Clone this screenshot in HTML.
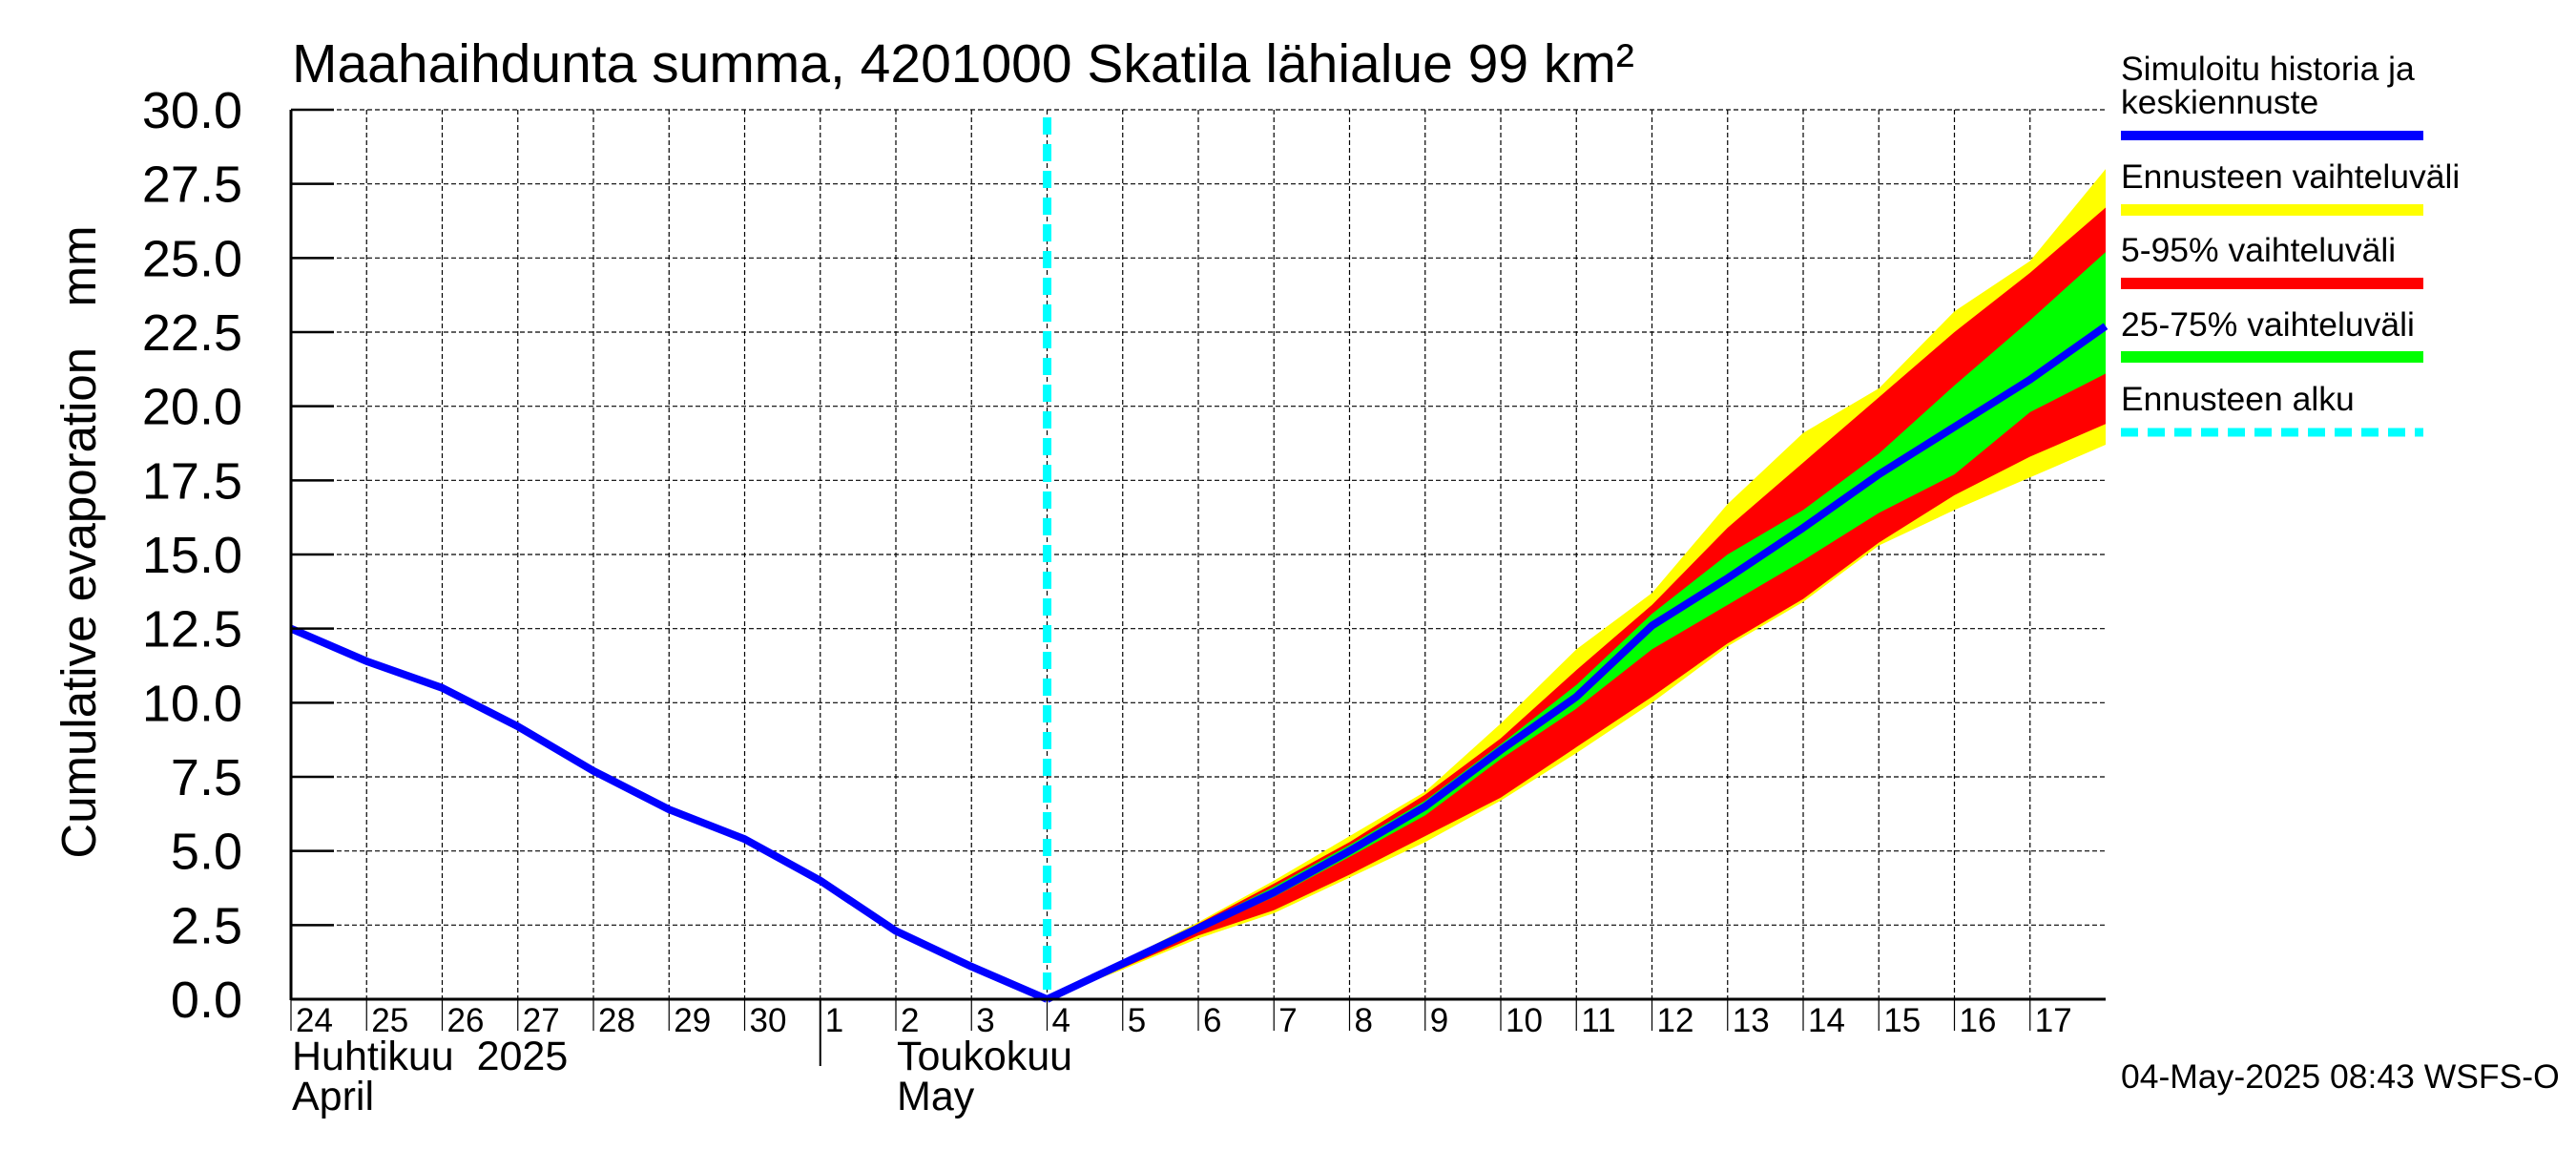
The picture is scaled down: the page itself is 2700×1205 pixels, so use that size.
<!DOCTYPE html>
<html><head><meta charset="utf-8">
<style>
html,body{margin:0;padding:0;background:#fff;}
svg text{font-family:"Liberation Sans",sans-serif;fill:#000;white-space:pre;}
</style></head>
<body>
<svg id="chart" width="2700" height="1200" viewBox="0 0 2700 1200" xmlns="http://www.w3.org/2000/svg">
<rect width="2700" height="1200" fill="#fff"/>
<text x="306" y="86" font-size="57">Maahaihdunta summa, 4201000 Skatila lähialue 99 km²</text>
<g id="grid"></g>
<g id="bands"></g>
<g id="lines"></g>
<g id="axes"></g>
<text transform="translate(100,568) rotate(-90)" text-anchor="middle" font-size="51">Cumulative evaporation   mm</text>
<g>
<text x="2223" y="84" font-size="35.5">Simuloitu historia ja</text>
<text x="2223" y="119" font-size="35.5">keskiennuste</text>
<rect x="2223" y="137" width="317" height="10" fill="#0000ff"/>
<text x="2223" y="197" font-size="35.5">Ennusteen vaihteluväli</text>
<rect x="2223" y="214" width="317" height="12" fill="#ffff00"/>
<text x="2223" y="274" font-size="35.5">5-95% vaihteluväli</text>
<rect x="2223" y="291" width="317" height="12" fill="#ff0000"/>
<text x="2223" y="352" font-size="35.5">25-75% vaihteluväli</text>
<rect x="2223" y="368" width="317" height="12" fill="#00ff00"/>
<text x="2223" y="430" font-size="35.5">Ennusteen alku</text>
<line x1="2223" y1="453" x2="2540" y2="453" stroke="#00ffff" stroke-width="9" stroke-dasharray="18,10"/>
</g>
<text x="2223" y="1140" font-size="35.5">04-May-2025 08:43 WSFS-O</text>
</svg>
<script>
const NS="http://www.w3.org/2000/svg";
const dayLabels=["24","25","26","27","28","29","30","1","2","3","4","5","6","7","8","9","10","11","12","13","14","15","16","17"];
const yTicks=[0,2.5,5,7.5,10,12.5,15,17.5,20,22.5,25,27.5,30];
const yTickLabels=["0.0","2.5","5.0","7.5","10.0","12.5","15.0","17.5","20.0","22.5","25.0","27.5","30.0"];
const historyDays=[0,1,2,3,4,5,6,7,8,9,10];
const historyValues=[12.5,11.4,10.5,9.2,7.7,6.4,5.4,4.0,2.3,1.1,0];
const fcDays=[10,11,12,13,14,15,16,17,18,19,20,21,22,23,24];
const fcMedian=[0,1.2,2.4,3.6,5.0,6.5,8.4,10.2,12.6,14.2,15.9,17.7,19.3,20.9,22.7];
const yellowHigh=[0,1.3,2.6,4.0,5.5,7.0,9.3,11.8,13.7,16.7,19.1,20.6,23.2,24.9,28.0];
const yellowLow=[0,1.0,2.05,2.9,4.1,5.3,6.7,8.3,10.0,11.9,13.4,15.3,16.5,17.6,18.7];
const redHigh=[0,1.25,2.55,3.9,5.3,6.9,8.8,11.1,13.3,15.9,18.1,20.3,22.5,24.5,26.7];
const redLow=[0,1.05,2.15,3.0,4.2,5.5,6.8,8.5,10.2,12.0,13.5,15.4,17.0,18.3,19.4];
const greenHigh=[0,1.22,2.5,3.8,5.2,6.7,8.6,10.6,13.0,15.0,16.5,18.4,20.7,22.9,25.2];
const greenLow=[0,1.15,2.3,3.45,4.8,6.2,8.1,9.8,11.8,13.3,14.8,16.4,17.7,19.8,21.1];
const forecastStartDay=10;

const X0=305,DX=79.25,Y0=1047,YTOP=115,XR=2207;
const xs=d=>X0+d*DX;
const ys=v=>Y0-(v/30)*(Y0-YTOP);
function mk(tag,attrs,parent){const e=document.createElementNS(NS,tag);for(const k in attrs)e.setAttribute(k,attrs[k]);parent.appendChild(e);return e;}
const grid=document.getElementById('grid'),bands=document.getElementById('bands'),lines=document.getElementById('lines'),axes=document.getElementById('axes');

yTicks.forEach((v,i)=>{
  const g=mk('line',{x1:X0,x2:XR,y1:ys(v),y2:ys(v),stroke:'#000','stroke-width':1.2,'stroke-dasharray':'5,3'},grid);
  
  
  const t=mk('line',{x1:X0,x2:X0+45,y1:ys(v),y2:ys(v),stroke:'#000','stroke-width':2.5},axes);
  
  
  const l=mk('text',{x:254,y:ys(v)+19,'text-anchor':'end','font-size':54},axes);
  l.textContent=yTickLabels[i];
  
  
});
dayLabels.forEach((lab,i)=>{
  const x=xs(i);
  if(i>0){const g=mk('line',{x1:x,x2:x,y1:YTOP,y2:Y0,stroke:'#000','stroke-width':1.2,'stroke-dasharray':'5,3'},grid);
  
  }
  const t=mk('line',{x1:x,x2:x,y1:Y0,y2:i===7?1117:1080,stroke:'#000','stroke-width':i===7?2:1.2},axes);
  
  
  const l=mk('text',{x:x+5,y:1081,'font-size':35},axes);
  l.textContent=lab;
  
  
});
function band(hi,lo,color,name){
  let pts=fcDays.map((d,i)=>xs(d)+','+ys(hi[i]));
  pts=pts.concat(fcDays.slice().reverse().map((d,j)=>{const i=fcDays.length-1-j;return xs(d)+','+ys(lo[i]);}));
  const p=mk('polygon',{points:pts.join(' '),fill:color},bands);
  
  
}
band(yellowHigh,yellowLow,'#ffff00','band-full-range');
band(redHigh,redLow,'#ff0000','band-5-95');
band(greenHigh,greenLow,'#00ff00','band-25-75');
const cy=mk('line',{x1:xs(forecastStartDay),x2:xs(forecastStartDay),y1:YTOP+8,y2:Y0,stroke:'#00ffff','stroke-width':9,'stroke-dasharray':'18,10'},lines);


const hp=mk('polyline',{points:historyDays.map((d,i)=>xs(d)+','+ys(historyValues[i])).join(' '),fill:'none',stroke:'#0000ff','stroke-width':8,'stroke-linejoin':'round'},lines);


const mp=mk('polyline',{points:fcDays.map((d,i)=>xs(d)+','+ys(fcMedian[i])).join(' '),fill:'none',stroke:'#0000ff','stroke-width':8,'stroke-linejoin':'round'},lines);


const ax1=mk('line',{x1:X0,x2:X0,y1:YTOP,y2:Y0+1,stroke:'#000','stroke-width':3},axes);


const ax2=mk('line',{x1:X0,x2:XR,y1:Y0,y2:Y0,stroke:'#000','stroke-width':3},axes);


[["Huhtikuu  2025",306,1121,'month-label-fi-april'],["April",306,1163,'month-label-en-april'],["Toukokuu",940,1121,'month-label-fi-may'],["May",940,1163,'month-label-en-may']].forEach(m=>{
  const t=mk('text',{x:m[1],y:m[2],'font-size':43},axes);
  t.textContent=m[0];
  
  
});
</script>
</body></html>
